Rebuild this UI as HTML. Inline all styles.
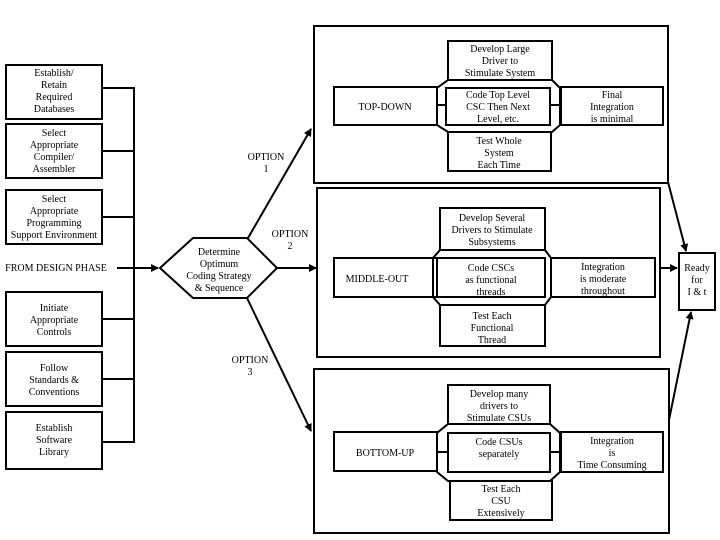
<!DOCTYPE html>
<html><head><meta charset="utf-8"><style>
html,body{margin:0;padding:0;background:#fff;}
svg{display:block;}
text{font-family:"Liberation Serif",serif;font-size:10px;fill:#000;text-anchor:middle;}
</style></head><body>
<svg width="720" height="540" viewBox="0 0 720 540" xmlns="http://www.w3.org/2000/svg">
<defs><marker id="a" markerWidth="8" markerHeight="8" refX="7" refY="4" orient="auto" markerUnits="userSpaceOnUse"><path d="M0,0 L8,4 L0,8 z" fill="#000"/></marker></defs>
<g fill="none" stroke="#000" stroke-width="2">
<!-- left boxes -->
<rect x="6" y="65" width="96" height="54"/>
<rect x="6" y="124" width="96" height="54"/>
<rect x="6" y="190" width="96" height="54"/>
<rect x="6" y="292" width="96" height="54"/>
<rect x="6" y="352" width="96" height="54"/>
<rect x="6" y="412" width="96" height="57"/>
<path d="M102,88 H134 V442 H102 M102,151 H134 M102,217 H134 M102,319 H134 M102,379 H134"/>
<path d="M117,268 H158" marker-end="url(#a)"/>
<polygon points="160,268 193,238 247,238 277,268 247,298 193,298"/>
<path d="M248,238 L311,129" marker-end="url(#a)"/>
<path d="M277,268 H316" marker-end="url(#a)"/>
<path d="M247,298 L311,431" marker-end="url(#a)"/>
<!-- top panel -->
<rect x="314" y="26" width="354" height="157"/>
<rect x="448" y="41" width="104" height="39"/>
<rect x="334" y="87" width="103" height="38"/>
<polygon points="448,80 552,80 560,88 560,125 552,132 448,132 437,125 437,88"/>
<rect x="446" y="88" width="104" height="37"/>
<rect x="448" y="132" width="103" height="39"/>
<rect x="561" y="87" width="102" height="38"/>
<path d="M437,105 H446 M550,105 H561"/>
<!-- middle panel -->
<rect x="317" y="188" width="343" height="169"/>
<rect x="440" y="208" width="105" height="42"/>
<rect x="334" y="258" width="103" height="39"/>
<polygon points="440,250 545,250 551,258 551,297 545,305 440,305 433,297 433,258"/>
<rect x="437" y="258" width="108" height="39"/>
<rect x="440" y="305" width="105" height="41"/>
<rect x="551" y="258" width="104" height="39"/>
<!-- bottom panel -->
<rect x="314" y="369" width="355" height="164"/>
<rect x="448" y="385" width="102" height="39"/>
<rect x="334" y="432" width="103" height="39"/>
<polygon points="448,424 550,424 560,433 560,472 550,481 448,481 437,472 437,433"/>
<rect x="448" y="433" width="102" height="39"/>
<rect x="450" y="481" width="102" height="39"/>
<rect x="561" y="432" width="102" height="40"/>
<path d="M437,452 H448 M550,452 H561"/>
<!-- ready -->
<rect x="679" y="253" width="36" height="57"/>
<path d="M668,182 L686,251" marker-end="url(#a)"/>
<path d="M660,268 H677" marker-end="url(#a)"/>
<path d="M669,420 L691,312" marker-end="url(#a)"/>
</g>
<text x="54" y="76">Establish/</text><text x="54" y="88">Retain</text><text x="54" y="100">Required</text><text x="54" y="112">Databases</text>
<text x="54" y="136">Select</text><text x="54" y="148">Appropriate</text><text x="54" y="160">Compiler/</text><text x="54" y="172">Assembler</text>
<text x="54" y="202">Select</text><text x="54" y="214">Appropriate</text><text x="54" y="226">Programming</text><text x="54" y="238">Support Environment</text>
<text x="56" y="271">FROM DESIGN PHASE</text>
<text x="54" y="311">Initiate</text><text x="54" y="323">Appropriate</text><text x="54" y="335">Controls</text>
<text x="54" y="371">Follow</text><text x="54" y="383">Standards &amp;</text><text x="54" y="395">Conventions</text>
<text x="54" y="431">Establish</text><text x="54" y="443">Software</text><text x="54" y="455">Library</text>
<text x="219" y="255">Determine</text><text x="219" y="267">Optimum</text><text x="219" y="279">Coding Strategy</text><text x="219" y="291">&amp; Sequence</text>
<text x="266" y="160">OPTION</text><text x="266" y="172">1</text>
<text x="290" y="237">OPTION</text><text x="290" y="249">2</text>
<text x="250" y="363">OPTION</text><text x="250" y="375">3</text>
<text x="500" y="52">Develop Large</text><text x="500" y="64">Driver to</text><text x="500" y="76">Stimulate System</text>
<text x="385" y="110">TOP-DOWN</text>
<text x="498" y="98">Code Top Level</text><text x="498" y="110">CSC Then Next</text><text x="498" y="122">Level, etc.</text>
<text x="499" y="144">Test Whole</text><text x="499" y="156">System</text><text x="499" y="168">Each Time</text>
<text x="612" y="98">Final</text><text x="612" y="110">Integration</text><text x="612" y="122">is minimal</text>
<text x="492" y="221">Develop Several</text><text x="492" y="233">Drivers to Stimulate</text><text x="492" y="245">Subsystems</text>
<text x="377" y="282">MIDDLE-OUT</text>
<text x="491" y="271">Code CSCs</text><text x="491" y="283">as functional</text><text x="491" y="295">threads</text>
<text x="603" y="270">Integration</text><text x="603" y="282">is moderate</text><text x="603" y="294">throughout</text>
<text x="492" y="319">Test Each</text><text x="492" y="331">Functional</text><text x="492" y="343">Thread</text>
<text x="499" y="397">Develop many</text><text x="499" y="409">drivers to</text><text x="499" y="421">Stimulate CSUs</text>
<text x="385" y="456">BOTTOM-UP</text>
<text x="499" y="445">Code CSUs</text><text x="499" y="457">separately</text>
<text x="612" y="444">Integration</text><text x="612" y="456">is</text><text x="612" y="468">Time Consuming</text>
<text x="501" y="492">Test Each</text><text x="501" y="504">CSU</text><text x="501" y="516">Extensively</text>
<text x="697" y="271">Ready</text><text x="697" y="283">for</text><text x="697" y="295">I &amp; t</text>
</svg>
</body></html>
